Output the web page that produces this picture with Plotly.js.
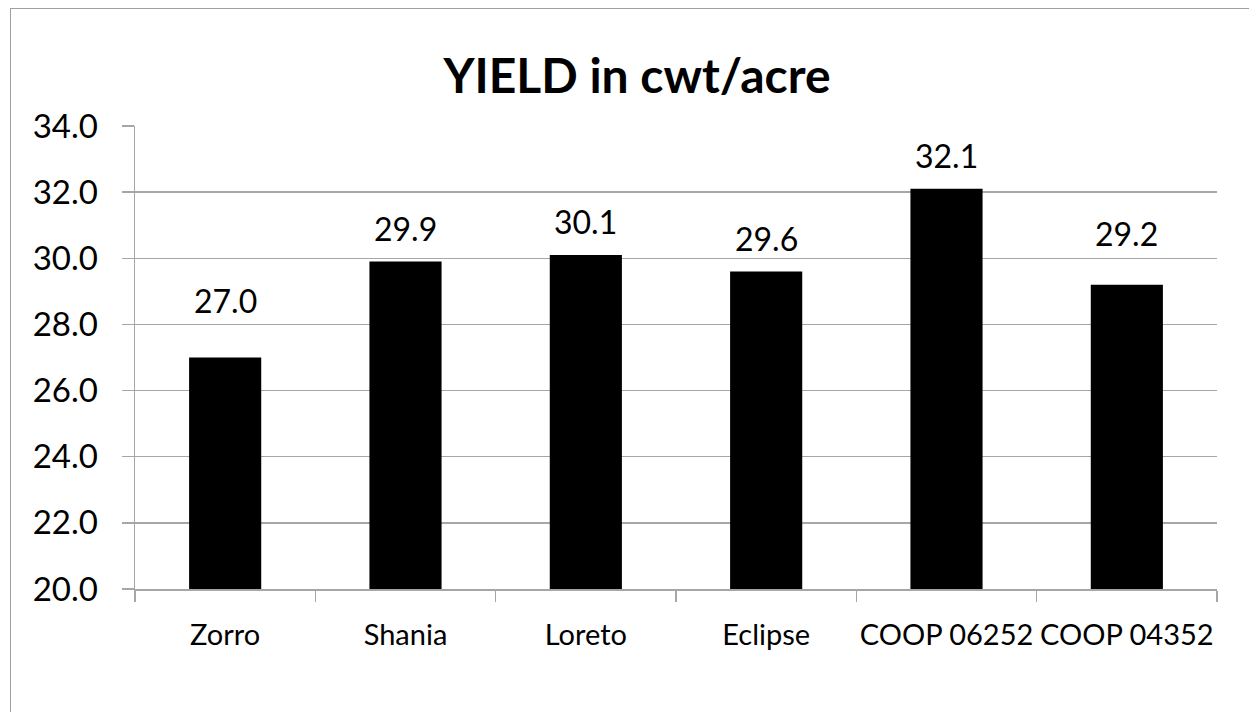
<!DOCTYPE html>
<html>
<head>
<meta charset="utf-8">
<script src="https://cdn.plot.ly/plotly-3.0.1.min.js"></script>
<style>
  html, body { margin: 0; padding: 0; background: #fff; }
  #wrap { position: relative; width: 1249px; height: 712px; overflow: hidden; }
  #chart { position: absolute; left: 0; top: 0; width: 1249px; height: 712px; }
  #frame { position: absolute; left: 10px; top: 8px; width: 1240px; height: 720px;
           border: 1.5px solid #a0a0a0; box-sizing: border-box; pointer-events: none; }
</style>
</head>
<body>
<div id="wrap">
  <div id="chart"></div>
  <div id="frame"></div>
</div>
<script>
const categories = ["Zorro", "Shania", "Loreto", "Eclipse", "COOP 06252", "COOP 04352"];
const yieldValues = [27.0, 29.9, 30.1, 29.6, 32.1, 29.2];
const chartTitle = "YIELD in cwt/acre";
const yTickValues = [20, 22, 24, 26, 28, 30, 32, 34];

// style only: extra lift (px) of individual value labels, as placed in the original
const labelLift = [24, 0, 0, 0, 0, 18];

const FONT = "Lato, 'Open Sans', sans-serif";
const GRID = "#a6a6a6";

const trace = {
  type: "bar",
  x: categories,
  y: yieldValues,
  marker: { color: "#000000", line: { width: 0 } },
  hoverinfo: "skip",
  cliponaxis: false
};

const annotations = categories.map((c, i) => ({
  x: c, y: yieldValues[i], xref: "x", yref: "y",
  text: yieldValues[i].toFixed(1),
  showarrow: false, yanchor: "bottom", yshift: 12 + labelLift[i],
  font: { family: FONT, size: 32, color: "#000" }
}));

const layout = {
  width: 1249, height: 712,
  margin: { l: 135, r: 32, t: 126, b: 123, pad: 0 },
  paper_bgcolor: "rgba(0,0,0,0)",
  plot_bgcolor: "#ffffff",
  showlegend: false,
  bargap: 0.6,
  title: {
    text: "<b>" + chartTitle + "</b>",
    font: { family: FONT, size: 48, color: "#000" },
    x: 0.51, xanchor: "center",
    y: 0.893, yanchor: "middle", yref: "container"
  },
  xaxis: {
    type: "category",
    showline: true, linecolor: GRID, linewidth: 1.5,
    ticks: "outside", tickson: "boundaries", ticklen: 11, tickcolor: GRID, tickwidth: 1.5,
    showgrid: false,
    tickangle: 0,
    tickfont: { family: FONT, size: 29, color: "#000" },
    ticklabelstandoff: 20
  },
  yaxis: {
    range: [20, 34],
    tickvals: yTickValues,
    tickformat: ".1f",
    showline: true, linecolor: GRID, linewidth: 1.5,
    ticks: "outside", ticklen: 12, tickcolor: GRID, tickwidth: 1.5,
    showgrid: true, gridcolor: GRID, gridwidth: 1.5,
    zeroline: false,
    tickfont: { family: FONT, size: 33, color: "#000" },
    ticklabelstandoff: 17
  },
  annotations: annotations
};

Plotly.newPlot("chart", [trace], layout, { displayModeBar: false, staticPlot: true });
</script>
</body>
</html>
